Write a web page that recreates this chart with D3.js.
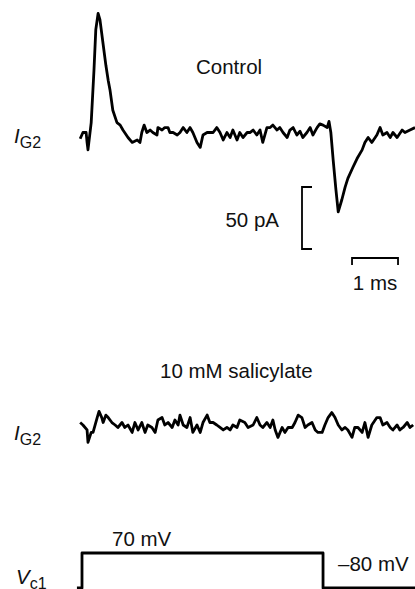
<!DOCTYPE html>
<html>
<head>
<meta charset="utf-8">
<script src="https://cdn.jsdelivr.net/npm/d3@7"></script>
<style>
  html, body { margin: 0; padding: 0; background: #fff; }
  svg { display: block; font-family: "Liberation Sans", Arial, Helvetica, sans-serif; }
  .trace { fill: none; stroke: #000; stroke-width: 2.8; stroke-linejoin: round; }
  .bar { fill: none; stroke: #000; stroke-width: 1.8; }
  .lbl { font-size: 20.5px; fill: #111; }
</style>
</head>
<body>
<div id="chart"></div>
<script>
// time (ms) and current (pA), t = 0 at voltage step onset
const controlT = [-0.04, 0.02, 0.09, 0.11, 0.13, 0.20, 0.26, 0.30, 0.35, 0.39, 0.46, 0.52, 0.57, 0.61, 0.67, 0.76, 0.83, 0.89,
  1.00, 1.09, 1.20, 1.26, 1.30, 1.35, 1.41, 1.48, 1.54, 1.63, 1.65, 1.74, 1.80, 1.87, 1.91, 1.98, 2.07, 2.13, 2.20, 2.28,
  2.35, 2.41, 2.50, 2.57, 2.63, 2.72, 2.78, 2.85, 2.93, 3.00, 3.07, 3.15, 3.22, 3.28, 3.37, 3.43, 3.50, 3.59, 3.65, 3.72,
  3.80, 3.87, 3.93, 4.02, 4.09, 4.15, 4.24, 4.30, 4.37, 4.46, 4.52, 4.59, 4.67, 4.74, 4.80, 4.89, 4.96, 5.02, 5.11, 5.17,
  5.24, 5.33, 5.37, 5.41, 5.46, 5.52, 5.57, 5.65, 5.72, 5.78, 5.89, 5.98, 6.09, 6.15, 6.22, 6.30, 6.41, 6.48, 6.54, 6.63,
  6.70, 6.76, 6.85, 6.96, 7.02, 7.13, 7.24];
const controlPA = [-3, 2, 2, -6, -12, 10, 52, 85, 98, 93, 73, 56, 44, 36, 20, 10, 8, 4,
  -2, -6, -4, -6, 2, 8, 2, 4, 2, 0, 6, 4, 6, 6, 2, 2, 0, 2, 6, 2,
  6, 2, -6, -10, 0, 2, 2, 2, 6, 2, -4, 2, -2, 4, -4, 2, -2, 2, 2, 4,
  0, 4, -6, 6, 6, 8, 4, 6, 2, -2, 4, 6, 0, 3, -2, 2, 6, 0, 6, 9,
  8, 6, 11, 2, -20, -44, -62, -52, -42, -35, -26, -19, -12, -6, -2, -6, 0, 6, 0, 2,
  -2, 2, -2, 4, 2, 4, 6];

const salT = [-0.04, 0.02, 0.11, 0.13, 0.20, 0.24, 0.33, 0.37, 0.43, 0.46, 0.52, 0.57, 0.65, 0.72, 0.78, 0.87, 0.93,
  1.00, 1.09, 1.15, 1.22, 1.30, 1.37, 1.43, 1.52, 1.59, 1.65, 1.74, 1.80, 1.87, 1.96, 2.02, 2.09, 2.13, 2.20, 2.28,
  2.35, 2.41, 2.50, 2.57, 2.63, 2.72, 2.78, 2.85, 2.93, 3.00, 3.07, 3.15, 3.22, 3.28, 3.37, 3.43, 3.54, 3.61, 3.72,
  3.80, 3.87, 3.93, 4.02, 4.09, 4.15, 4.20, 4.26, 4.35, 4.41, 4.48, 4.57, 4.63, 4.70, 4.78, 4.85, 4.91, 5.00, 5.07,
  5.13, 5.22, 5.28, 5.35, 5.43, 5.50, 5.57, 5.65, 5.72, 5.78, 5.87, 5.93, 6.00, 6.09, 6.15, 6.22, 6.30, 6.41, 6.48,
  6.54, 6.63, 6.70, 6.76, 6.85, 6.91, 6.98, 7.07, 7.13, 7.20];
const salPA = [2, 0, -4, -14, -6, -6, 6, 11, 6, 2, 8, 6, 2, 0, -2, 2, -2,
  0, -6, 2, -4, 2, -6, 0, -2, -6, 4, 6, 0, 2, -2, 4, 0, 8, 0, -2,
  6, -6, 0, -6, 2, 8, 2, 2, 0, -2, -4, -2, -4, 0, -2, 4, 2, -2, 0,
  6, 0, -2, 2, -2, 4, -4, -10, -2, -6, -2, -2, 2, 8, 6, -2, 0, 2, -4,
  -6, -6, 0, 6, 10, 6, 0, -4, -2, -4, -10, -2, -2, -6, 2, -10, 0, 6, 6,
  0, 2, -2, -4, 0, -4, -2, 2, -2, 0];

// command voltage V_c1 (mV)
const stepT = [-0.11, 0, 0, 5.24, 5.24, 7.4];
const stepMV = [-80, -80, 70, 70, -80, -80];

const barPA = 50;     // vertical scale bar
const barMs = 1;      // horizontal scale bar

const W = 415, H = 589;

const svg = d3.select("#chart").append("svg")
  .attr("width", W).attr("height", H)
  .attr("viewBox", [0, 0, W, H]);

const x = d3.scaleLinear().domain([0, 1]).range([82, 128]);
const yControl = d3.scaleLinear().domain([0, 50]).range([135, 73]);
const ySal = d3.scaleLinear().domain([0, 50]).range([425, 363]);
const yV = d3.scaleLinear().domain([-80, 70]).range([588, 553]);

const line = (ts, vs, y) => d3.line()
  .x((d, i) => x(ts[i]))
  .y((d) => y(d))(vs);

svg.append("path").attr("class", "trace").attr("d", line(controlT, controlPA, yControl));
svg.append("path").attr("class", "trace").attr("d", line(salT, salPA, ySal));
svg.append("path").attr("class", "trace").attr("stroke-width", 2).attr("stroke-linejoin", "miter")
  .attr("d", line(stepT, stepMV, yV));

// scale bars
const yBar = d3.scaleLinear().domain([0, barPA]).range([249, 187]);
const vx = 302;
svg.append("path").attr("class", "bar")
  .attr("d", `M${vx + 10},${yBar(barPA)}H${vx}V${yBar(0)}H${vx + 10}`);

const t0 = 5.87;
svg.append("path").attr("class", "bar")
  .attr("d", `M${x(t0)},265V258H${x(t0 + barMs)}V265`);

// labels
const text = (s, px, py, anchor = "start") =>
  svg.append("text").attr("class", "lbl").attr("x", px).attr("y", py)
    .attr("text-anchor", anchor).text(s);

text("Control", 196, 74);
text("50 pA", 279, 227, "end");
text(`${barMs} ms`, x(t0 + barMs / 2), 290, "middle");
text("10 mM salicylate", 160, 378);
text("70 mV", 112, 546);
text("\u201380 mV", 338, 571);

// V_c1 sits on the bottom edge, its subscript is cut off as in the figure
function subLabel(main, sub, px, py) {
  const t = svg.append("text").attr("class", "lbl").attr("x", px).attr("y", py);
  t.append("tspan").attr("font-style", "italic").text(main);
  t.append("tspan").attr("font-size", 16).attr("dy", 5).text(sub);
}
subLabel("I", "G2", 14, 143);
subLabel("I", "G2", 14, 440);
subLabel("V", "c1", 16, 584);
</script>
</body>
</html>
